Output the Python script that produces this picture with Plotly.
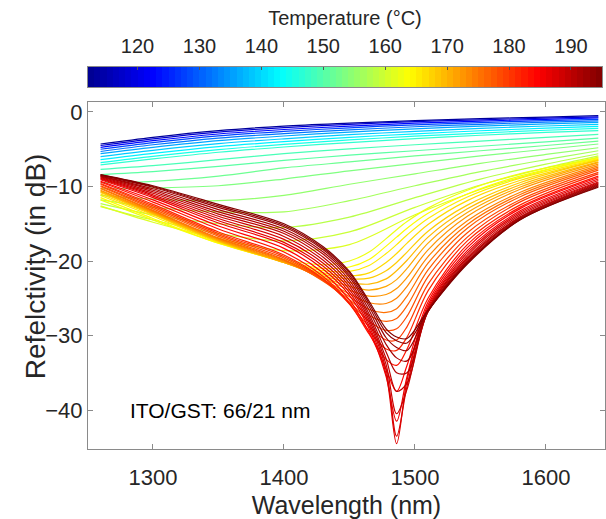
import numpy as np
import plotly.graph_objects as go
from plotly.colors import sample_colorscale

# ---------------- data ----------------
# wavelength knots (nm)
WL_A = [1260, 1300, 1350, 1400, 1450, 1500, 1550, 1600, 1640]
WL_B = [1260, 1300, 1350, 1400, 1430, 1450, 1465, 1478, 1486, 1494, 1510, 1540, 1580, 1640]

# cool curves (blue -> cyan), sampled at WL_A
T_COOL = [113, 118, 123, 128, 132, 136, 139, 142, 145, 147]
R_COOL = [
    [-4.3, -3.4, -2.5, -1.9, -1.5, -1.15, -0.9, -0.68, -0.5],
    [-4.5, -3.6, -2.7, -2.1, -1.65, -1.3, -1.05, -0.82, -0.65],
    [-4.75, -3.85, -2.95, -2.35, -1.9, -1.5, -1.22, -0.98, -0.8],
    [-5.0, -4.1, -3.2, -2.6, -2.12, -1.72, -1.42, -1.15, -0.98],
    [-5.3, -4.4, -3.5, -2.9, -2.4, -1.98, -1.65, -1.36, -1.18],
    [-5.6, -4.75, -3.85, -3.22, -2.7, -2.27, -1.9, -1.6, -1.4],
    [-6.0, -5.15, -4.25, -3.6, -3.05, -2.6, -2.2, -1.88, -1.65],
    [-6.4, -5.55, -4.65, -3.98, -3.4, -2.93, -2.52, -2.17, -1.92],
    [-6.8, -5.95, -5.05, -4.35, -3.75, -3.25, -2.83, -2.45, -2.2],
    [-7.1, -6.3, -5.4, -4.7, -4.1, -3.58, -3.12, -2.73, -2.5],
]

# green curves, sampled at WL_A
T_GREEN = [149, 150.5, 152, 153.5, 155, 156.5, 158, 159.5, 161]
R_GREEN = [
    [-7.7, -7.2, -6.4, -5.6, -4.95, -4.4, -3.9, -3.4, -3.0],
    [-8.4, -8.0, -7.3, -6.5, -5.8, -5.2, -4.6, -4.0, -3.5],
    [-9.5, -9.3, -8.6, -7.5, -6.7, -5.9, -5.2, -4.5, -3.9],
    [-10.3, -10.2, -9.9, -9.0, -7.9, -6.9, -5.9, -5.0, -4.3],
    [-11.2, -11.7, -11.9, -11.2, -9.7, -8.3, -6.9, -5.7, -4.8],
    [-11.8, -12.8, -13.4, -13.4, -11.9, -9.9, -8.0, -6.4, -5.2],
    [-12.3, -13.8, -15.0, -15.5, -14.1, -11.5, -9.0, -7.0, -5.6],
    [-12.7, -14.5, -16.3, -17.3, -16.1, -12.8, -9.8, -7.5, -5.9],
    [-12.6, -14.8, -17.0, -18.6, -17.8, -13.8, -10.4, -7.8, -6.05],
]

# yellow curves, sampled at WL_B
T_YELLOW = [162.5, 164, 165.5, 167]
R_YELLOW = [
    [-11.8, -14.5, -17.6, -19.8, -20.5, -20.0, -18.8, -17.0, -15.8, -14.7, -12.9, -10.5, -8.3, -6.15],
    [-11.5, -14.3, -17.6, -20.0, -21.0, -20.8, -19.8, -18.0, -16.8, -15.6, -13.6, -11.0, -8.6, -6.25],
    [-11.2, -14.0, -17.5, -20.1, -21.3, -21.4, -20.6, -19.0, -17.8, -16.5, -14.3, -11.4, -8.9, -6.35],
    [-11.0, -13.8, -17.4, -20.2, -21.6, -22.0, -21.6, -20.2, -19.0, -17.6, -15.1, -11.9, -9.2, -6.45],
]

# orange curves, sampled at WL_B
T_ORANGE = [168, 169.5, 171, 172.5, 174, 175.5, 177, 178.5, 180, 181.5]
R_ORANGE = [
    [-10.8, -13.7, -17.3, -20.2, -21.8, -22.4, -22.3, -21.3, -20.2, -18.8, -16.0, -12.5, -9.5, -6.5],
    [-10.7, -13.6, -17.3, -20.2, -22.0, -22.9, -23.1, -22.4, -21.3, -19.9, -16.8, -13.0, -9.8, -6.7],
    [-10.6, -13.5, -17.2, -20.2, -22.2, -23.4, -23.9, -23.4, -22.5, -21.0, -17.6, -13.5, -10.1, -6.8],
    [-10.5, -13.4, -17.1, -20.1, -22.3, -23.9, -24.7, -24.5, -23.7, -22.2, -18.5, -14.0, -10.4, -7.0],
    [-10.3, -13.3, -17.0, -20.0, -22.5, -24.4, -25.6, -25.7, -25.0, -23.4, -19.4, -14.6, -10.8, -7.2],
    [-10.2, -13.2, -16.9, -19.9, -22.6, -24.8, -26.5, -26.9, -26.4, -24.7, -20.3, -15.1, -11.1, -7.4],
    [-10.0, -13.0, -16.7, -19.8, -22.7, -25.2, -27.3, -28.1, -27.7, -26.0, -21.2, -15.6, -11.4, -7.6],
    [-9.9, -12.8, -16.5, -19.6, -22.6, -25.5, -28.1, -29.3, -29.1, -27.4, -22.1, -16.2, -11.8, -7.8],
    [-9.7, -12.6, -16.3, -19.4, -22.5, -25.7, -28.8, -30.6, -30.6, -28.8, -23.1, -16.8, -12.1, -8.1],
    [-9.6, -12.4, -16.1, -19.2, -22.4, -25.8, -29.4, -31.8, -32.0, -30.2, -24.0, -17.3, -12.5, -8.3],
]

# red curves, sampled at WL_B
T_RED = [183, 184.5, 186, 187, 188, 189, 190, 191, 192, 193, 194, 195]
R_RED = [
    [-9.4, -12.1, -15.7, -18.8, -22.1, -25.7, -29.8, -33.2, -34.0, -31.8, -25.0, -17.8, -12.8, -8.6],
    [-9.3, -11.8, -15.3, -18.3, -21.6, -25.2, -29.6, -34.5, -37.5, -34.0, -25.5, -18.2, -13.0, -8.8],
    [-9.1, -11.5, -14.9, -17.8, -21.1, -24.6, -29.1, -35.5, -41.5, -35.5, -25.9, -18.6, -13.3, -9.0],
    [-9.0, -11.3, -14.6, -17.5, -20.7, -24.2, -28.7, -35.2, -44.5, -36.0, -26.2, -18.9, -13.5, -9.2],
    [-8.9, -11.1, -14.3, -17.1, -20.3, -23.8, -28.3, -34.6, -43.5, -36.8, -26.4, -19.2, -13.7, -9.4],
    [-8.8, -10.9, -14.0, -16.7, -19.9, -23.4, -27.9, -33.9, -40.5, -37.2, -26.6, -19.5, -13.9, -9.5],
    [-8.7, -10.7, -13.7, -16.3, -19.5, -23.0, -27.5, -33.1, -37.5, -36.4, -26.7, -19.7, -14.1, -9.6],
    [-8.6, -10.5, -13.4, -16.0, -19.1, -22.6, -27.1, -32.2, -35.0, -35.0, -26.8, -19.9, -14.2, -9.7],
    [-8.6, -10.3, -13.1, -15.7, -18.8, -22.2, -26.6, -31.2, -33.0, -33.4, -26.8, -20.1, -14.3, -9.8],
    [-8.5, -10.1, -12.8, -15.4, -18.5, -21.9, -26.1, -30.3, -31.6, -32.0, -26.7, -20.2, -14.4, -9.9],
    [-8.45, -10.0, -12.6, -15.2, -18.3, -21.6, -25.7, -29.6, -30.7, -31.0, -26.7, -20.3, -14.5, -10.0],
    [-8.4, -9.9, -12.4, -15.0, -18.1, -21.4, -25.4, -29.1, -30.2, -30.4, -26.6, -20.4, -14.5, -10.1],
]

T_MIN, T_MAX = 112, 195
CBAR_TICKS = [120, 130, 140, 150, 160, 170, 180, 190]
X_TICKS = [1300, 1400, 1500, 1600]
Y_TICKS = [0, -10, -20, -30, -40]

# ---------------- styling ----------------
JET = [
    [0.0, "rgb(0,0,143)"],
    [0.125, "rgb(0,0,255)"],
    [0.375, "rgb(0,255,255)"],
    [0.625, "rgb(255,255,0)"],
    [0.875, "rgb(255,0,0)"],
    [1.0, "rgb(128,0,0)"],
]
FONT = "Liberation Sans, Arial, sans-serif"
TXT = "#262626"
AX = "#8a8a8a"

fig = go.Figure()

groups = [
    (WL_A, T_COOL, R_COOL),
    (WL_A, T_GREEN, R_GREEN),
    (WL_B, T_YELLOW, R_YELLOW),
    (WL_B, T_ORANGE, R_ORANGE),
    (WL_B, T_RED, R_RED),
]
for wl, temps, rows in groups:
    for t, r in zip(temps, rows):
        col = sample_colorscale(JET, [(t - T_MIN) / (T_MAX - T_MIN)])[0]
        fig.add_trace(go.Scatter(
            x=wl, y=r, mode="lines",
            line=dict(color=col, width=1.2, shape="spline", smoothing=0.9),
            hoverinfo="skip", showlegend=False,
        ))

# colour bar drawn as a heatmap strip
cbar_t = np.arange(T_MIN + 0.5, T_MAX, 1.0)
fig.add_trace(go.Heatmap(
    x=cbar_t, y=[0], z=[cbar_t], colorscale=JET, zmin=T_MIN, zmax=T_MAX,
    showscale=False, xaxis="x2", yaxis="y2", hoverinfo="skip",
))

fig.add_annotation(
    x=1281, y=-40, xref="x", yref="y", text="ITO/GST: 66/21 nm",
    showarrow=False, xanchor="left", yanchor="middle",
    font=dict(family=FONT, size=21, color="black"),
)
# y-axis title placed as a rotated annotation
fig.add_annotation(
    x=-0.1025, y=0.447, xref="paper", yref="paper", text="Refelctivity (in dB)",
    showarrow=False, textangle=-90, xanchor="center", yanchor="middle",
    font=dict(family=FONT, size=28, color=TXT),
)

fig.update_layout(
    width=606, height=519,
    margin=dict(l=88, r=1, t=40, b=70),
    paper_bgcolor="white", plot_bgcolor="white",
    font=dict(family=FONT, color=TXT),
    xaxis=dict(
        domain=[0, 1], anchor="y", range=[1250.4, 1645.1], automargin=False,
        tickvals=X_TICKS, ticks="inside", ticklen=5, tickcolor=AX,
        showline=True, linecolor=AX, linewidth=1, mirror="ticks",
        showgrid=False, zeroline=False, ticklabelstandoff=9,
        tickfont=dict(size=22, color=TXT),
        title=dict(text="Wavelength (nm)", font=dict(size=25, color=TXT), standoff=12),
    ),
    yaxis=dict(
        domain=[0, 0.8484], anchor="x", range=[-45.23, 1.34], automargin=False,
        tickvals=Y_TICKS, ticks="inside", ticklen=5, tickcolor=AX,
        showline=True, linecolor=AX, linewidth=1, mirror="ticks",
        showgrid=False, zeroline=False,
        tickfont=dict(size=22, color=TXT),
    ),
    xaxis2=dict(
        domain=[0, 0.994], anchor="y2", range=[T_MIN, T_MAX], side="top", automargin=False,
        tickvals=CBAR_TICKS, ticks="inside", ticklen=3, tickcolor="#555555",
        showline=True, linecolor=AX, linewidth=1, mirror=True,
        showgrid=False, zeroline=False, ticklabelstandoff=5,
        tickfont=dict(size=20, color=TXT),
        title=dict(text="Temperature (°C)", font=dict(size=20, color=TXT), standoff=3),
    ),
    yaxis2=dict(
        domain=[0.8851, 0.934], anchor="x2", range=[-0.5, 0.5], automargin=False,
        showticklabels=False, ticks="", showline=True, linecolor=AX,
        mirror=True, showgrid=False, zeroline=False,
    ),
)

fig.write_html(
    "out.html",
    config={"displayModeBar": False},
    post_script="document.body.style.margin='0';document.body.style.overflow='hidden';",
)
